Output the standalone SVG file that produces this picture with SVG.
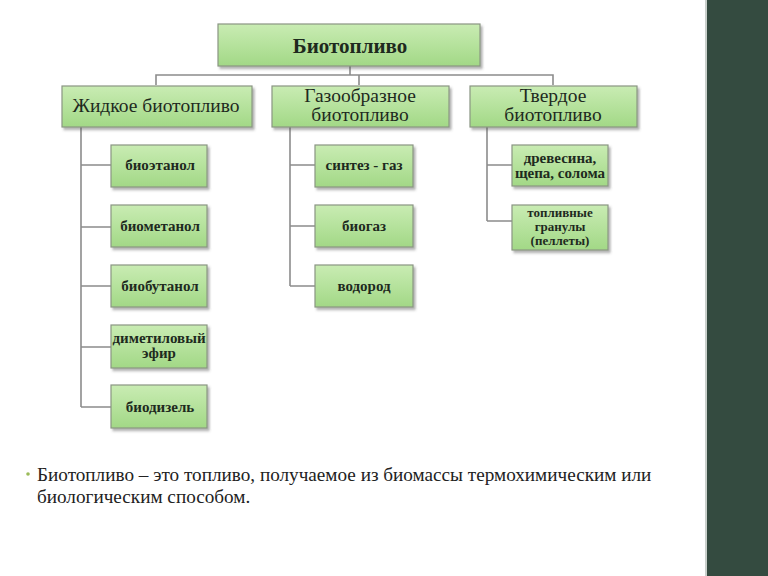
<svg xmlns="http://www.w3.org/2000/svg" width="768" height="576" viewBox="0 0 768 576">
<defs>
<linearGradient id="g" x1="0" y1="0" x2="0" y2="1">
<stop offset="0" stop-color="#c9ecb3"/>
<stop offset="1" stop-color="#a2d886"/>
</linearGradient>
<filter id="sh" x="-10%" y="-10%" width="130%" height="140%">
<feDropShadow dx="2" dy="2.5" stdDeviation="1.2" flood-color="#555" flood-opacity="0.45"/>
</filter>
</defs>
<style>
.box{fill:url(#g);stroke:#8a9683;stroke-width:1.2;filter:url(#sh)}
.t{fill:#1e2a1e;text-anchor:middle}
.t0{font-size:21px;font-weight:bold}
.t1{font-size:19.5px}
.t2{font-size:15px;font-weight:bold}
.t3{font-size:13px;font-weight:bold}
.c{fill:none;stroke:#8c8c8c;stroke-width:1.6}
.body{font-size:19.2px;fill:#222}
</style>
<rect x="0" y="0" width="768" height="576" fill="#ffffff"/>
<rect x="707" y="0" width="61" height="576" fill="#344b40"/>
<rect x="705" y="0" width="2" height="576" fill="#c8cfcb"/>

<g id="connectors">
<path class="c" d="M350 66V75M156 85V75H553V85M359 75V85"/>
<path class="c" d="M81 127V407M81 165H111M81 227H111M81 286H111M81 347H111M81 407H111"/>
<path class="c" d="M290 127V286M290 165H315M290 226H315M290 286H315"/>
<path class="c" d="M487 127V221M487 165H512M487 221H512"/>
</g>

<g font-family="Liberation Serif, Times New Roman, DejaVu Serif, serif">
<g id="n-root"><rect class="box" x="218" y="24" width="262" height="42"/><text class="t t0" x="350" y="53">Биотопливо</text></g>

<g id="n-liquid"><rect class="box" x="62" y="86" width="190" height="41"/><text class="t t1" x="156" y="112">Жидкое биотопливо</text></g>
<g id="n-gas"><rect class="box" x="272" y="86" width="177" height="41"/><text class="t t1" x="360" y="102">Газообразное</text><text class="t t1" x="360" y="121">биотопливо</text></g>
<g id="n-solid"><rect class="box" x="470" y="86" width="167" height="41"/><text class="t t1" x="553" y="102">Твердое</text><text class="t t1" x="553" y="121">биотопливо</text></g>

<g id="n-bioethanol"><rect class="box" x="111" y="145" width="96" height="42"/><text class="t t2" x="160" y="170">биоэтанол</text></g>
<g id="n-biomethanol"><rect class="box" x="111" y="205" width="96" height="42"/><text class="t t2" x="160" y="231">биометанол</text></g>
<g id="n-biobutanol"><rect class="box" x="111" y="265" width="96" height="42"/><text class="t t2" x="160" y="291">биобутанол</text></g>
<g id="n-dme"><rect class="box" x="111" y="325" width="96" height="43"/><text class="t t2" x="159" y="343" font-size="14.2">диметиловый</text><text class="t t2" x="159" y="358" font-size="14.2">эфир</text></g>
<g id="n-biodiesel"><rect class="box" x="111" y="385" width="96" height="43"/><text class="t t2" x="160" y="412">биодизель</text></g>

<g id="n-syngas"><rect class="box" x="315" y="145" width="98" height="42"/><text class="t t2" x="364" y="170">синтез - газ</text></g>
<g id="n-biogas"><rect class="box" x="315" y="205" width="98" height="42"/><text class="t t2" x="364" y="231">биогаз</text></g>
<g id="n-hydrogen"><rect class="box" x="315" y="265" width="98" height="42"/><text class="t t2" x="364" y="291">водород</text></g>

<g id="n-wood"><rect class="box" x="512" y="145" width="96" height="41"/><text class="t t2" x="560" y="163">древесина,</text><text class="t t2" x="560" y="178">щепа, солома</text></g>
<g id="n-pellets"><rect class="box" x="512" y="205" width="96" height="45"/><text class="t t3" x="560" y="217">топливные</text><text class="t t3" x="560" y="231">гранулы</text><text class="t t3" x="560" y="245">(пеллеты)</text></g>

<g id="caption">
<circle cx="28" cy="474" r="1.8" fill="#9bbb59"/>
<text class="body" x="37" y="481">Биотопливо – это топливо, получаемое из биомассы термохимическим или</text>
<text class="body" x="37" y="503">биологическим способом.</text>
</g>
</g>
</svg>
